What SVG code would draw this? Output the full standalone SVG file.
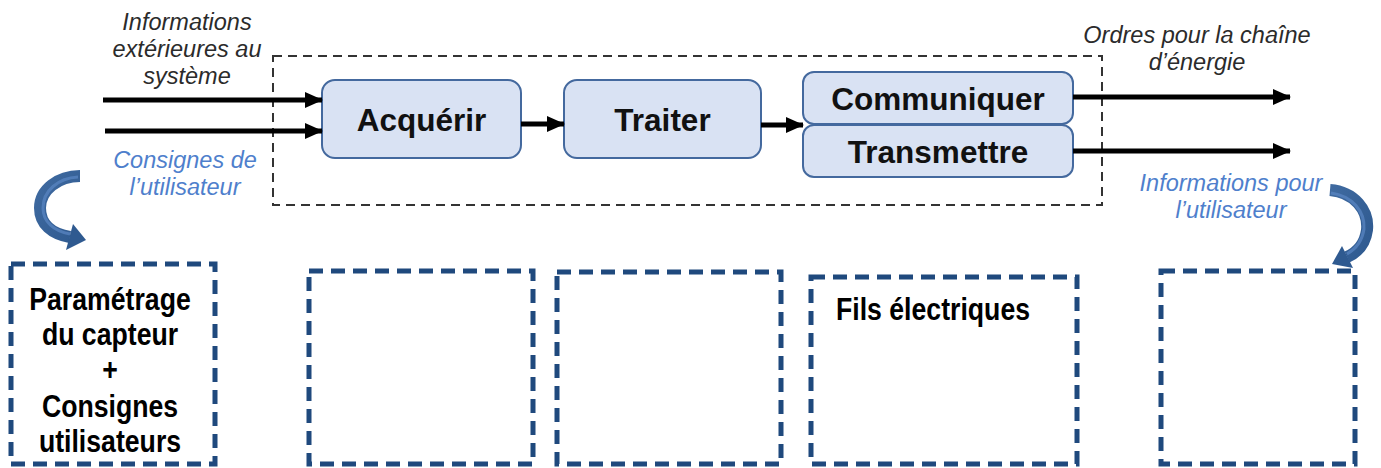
<svg xmlns="http://www.w3.org/2000/svg" width="1381" height="468" viewBox="0 0 1381 468">
  <defs>
    <marker id="head" markerUnits="userSpaceOnUse" markerWidth="18" markerHeight="16" refX="17" refY="8" orient="auto">
      <path d="M0,0 L18,8 L0,16 Z" fill="#000"/>
    </marker>
    <linearGradient id="curve" x1="0" y1="0" x2="1" y2="1">
      <stop offset="0" stop-color="#3f6aa0"/>
      <stop offset="1" stop-color="#2f5a90"/>
    </linearGradient>
  </defs>
  <style>
    .fn rect { fill: #d9e2f3; stroke: #44699e; stroke-width: 2; }
    .fn text { font-family: "Liberation Sans", Arial, sans-serif; font-weight: bold; font-size: 31.5px; fill: #111; text-anchor: middle; }
    .lbl { font-family: "Liberation Sans", Arial, sans-serif; font-style: italic; font-size: 23.5px; text-anchor: middle; }
    .dark { fill: #2b2b2b; }
    .blue { fill: #4f7fcc; }
    .flow { stroke: #000; stroke-width: 5; fill: none; marker-end: url(#head); }
    .slot rect { fill: none; stroke: #1f497d; stroke-width: 5; stroke-dasharray: 14 8; }
    .slot text { font-family: "Liberation Sans", Arial, sans-serif; font-weight: bold; font-size: 31px; fill: #000; text-anchor: middle; }
    .bend { fill: none; stroke: url(#curve); stroke-width: 12; }
    .bend-hl { fill: none; stroke: #5b88c4; stroke-width: 3; opacity: 0.7; }
  </style>

  <!-- system boundary -->
  <rect id="boundary" x="273" y="56" width="829" height="149" fill="none" stroke="#333" stroke-width="2" stroke-dasharray="9 6"/>

  <!-- external labels -->
  <g id="labels">
    <text class="lbl dark" x="187" y="30">Informations</text>
    <text class="lbl dark" x="187" y="57">extérieures au</text>
    <text class="lbl dark" x="187" y="84">système</text>
    <text class="lbl blue" x="185" y="168">Consignes de</text>
    <text class="lbl blue" x="185" y="195">l’utilisateur</text>
    <text class="lbl dark" x="1197" y="43">Ordres pour la chaîne</text>
    <text class="lbl dark" x="1197" y="70">d’énergie</text>
    <text class="lbl blue" x="1231" y="191">Informations pour</text>
    <text class="lbl blue" x="1231" y="218">l’utilisateur</text>
  </g>

  <!-- function blocks -->
  <g id="acquerir" class="fn">
    <rect x="322" y="80" width="199" height="78" rx="13"/>
    <text x="421.5" y="131">Acquérir</text>
  </g>
  <g id="traiter" class="fn">
    <rect x="564" y="80" width="197" height="78" rx="13"/>
    <text x="662.5" y="131">Traiter</text>
  </g>
  <g id="communiquer" class="fn">
    <rect x="803" y="72" width="270" height="52" rx="11"/>
    <text x="938" y="110">Communiquer</text>
  </g>
  <g id="transmettre" class="fn">
    <rect x="803" y="125" width="270" height="52" rx="11"/>
    <text x="938" y="163">Transmettre</text>
  </g>

  <!-- flows -->
  <g id="connectors">
    <line class="flow" x1="103" y1="100" x2="322" y2="100"/>
    <line class="flow" x1="105" y1="131" x2="322" y2="131"/>
    <line class="flow" x1="521" y1="124" x2="564" y2="124"/>
    <line class="flow" x1="761" y1="125" x2="803" y2="125"/>
    <line class="flow" x1="1073" y1="97" x2="1290" y2="97"/>
    <line class="flow" x1="1073" y1="151" x2="1290" y2="151"/>

    <!-- curved arrows toward the answer slots -->
    <g id="bend-left">
      <path class="bend" d="M80,176 C58,176 40,190 40,208 C40,224 52,234 70,237"/>
      <path class="bend-hl" d="M78,177 C58,178 43,191 43,208 C43,222 54,231 70,234"/>
      <path d="M86,240 L73,224 L66,250 Z" fill="#2f5a90"/>
    </g>
    <g id="bend-right">
      <path class="bend" d="M1330,190 C1354,192 1369,210 1367,230 C1365,245 1356,253 1347,257"/>
      <path class="bend-hl" d="M1331,193 C1352,196 1365,211 1364,229 C1362,243 1354,250 1347,254"/>
      <path d="M1332,264 L1342,246 L1353,268 Z" fill="#2f5a90"/>
    </g>
  </g>

  <!-- answer slots (condensed bold lettering) -->
  <g id="slot-1" class="slot">
    <rect x="11" y="264" width="204" height="200"/>
    <g transform="translate(110,0) scale(0.86,1)">
      <text x="0" y="310">Paramétrage</text>
      <text x="0" y="345">du capteur</text>
      <text x="0" y="380">+</text>
      <text x="0" y="417">Consignes</text>
      <text x="0" y="452">utilisateurs</text>
    </g>
  </g>
  <g id="slot-2" class="slot">
    <rect x="309" y="271" width="224" height="193"/>
  </g>
  <g id="slot-3" class="slot">
    <rect x="557" y="272" width="224" height="192"/>
  </g>
  <g id="slot-4" class="slot">
    <rect x="811" y="277" width="266" height="187"/>
    <g transform="translate(933,0) scale(0.86,1)">
      <text x="0" y="320">Fils électriques</text>
    </g>
  </g>
  <g id="slot-5" class="slot">
    <rect x="1161" y="271" width="194" height="193"/>
  </g>
</svg>
